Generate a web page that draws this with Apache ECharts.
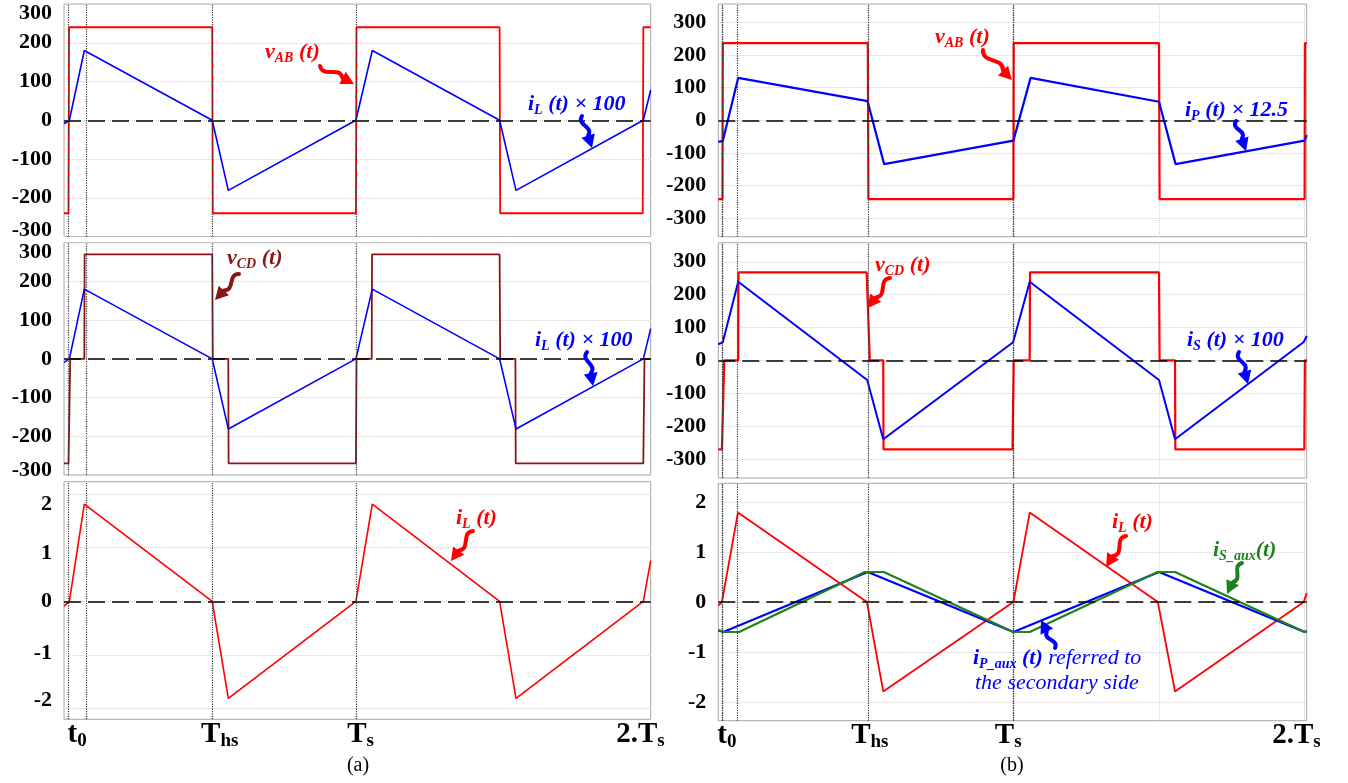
<!DOCTYPE html>
<html><head><meta charset="utf-8">
<script src="https://cdn.jsdelivr.net/npm/echarts@6/dist/echarts.min.js"></script>
<style>html,body{margin:0;padding:0;background:#fff}#c{width:1348px;height:783px}</style>
</head><body><div id="c"></div>
<script>
// ---------- DATA (time in units of Ts) ----------
// (a) column
const aVab   = [[-0.0157,-240],[0.0,-240],[0.002,240],[0.5,240],[0.502,-240],[1.0,-240],[1.002,240],[1.5,240],[1.502,-240],[1.998,-240],[2.0,240],[2.0257,240]];
const aIl100 = [[-0.0157,-9],[0.003,0],[0.055,180],[0.5,0],[0.556,-181],[1.0,0],[1.057,180],[1.5,0],[1.557,-181],[2.0,0],[2.0257,78]];
const aVcd   = [[-0.0157,-270],[0.0,-270],[0.006,0],[0.055,0],[0.056,270],[0.5,270],[0.502,0],[0.556,0],[0.557,-270],[1.0,-270],[1.002,0],[1.055,0],[1.056,270],[1.5,270],[1.502,0],[1.555,0],[1.556,-270],[2.0,-270],[2.004,0],[2.0257,0]];
const aIl    = [[-0.0157,-0.09],[0.003,0],[0.055,1.81],[0.5,0],[0.556,-1.81],[1.0,0],[1.057,1.81],[1.5,0],[1.557,-1.81],[2.0,0],[2.0257,0.76]];
// (b) column
const bVab   = [[-0.0134,-241],[0.001,-241],[0.002,236],[0.5,236],[0.502,-241],[1.0,-241],[1.001,236],[1.5,236],[1.502,-241],[2.0,-241],[2.001,236],[2.0072,236]];
const bIp125 = [[-0.0134,-66],[0.002,-63],[0.055,130],[0.499,59],[0.556,-134],[1.0,-62],[1.059,130],[1.5,57],[1.557,-134],[2.0,-62],[2.0072,-45]];
const bVcd   = [[-0.0134,-271],[-0.001,-271],[0.007,0],[0.055,0],[0.056,268],[0.496,268],[0.507,0],[0.553,0],[0.554,-271],[0.997,-271],[1.001,0],[1.056,0],[1.057,268],[1.5,268],[1.502,0],[1.555,0],[1.556,-271],[1.999,-271],[2.001,0],[2.0072,0]];
const bIs100 = [[-0.0134,49],[0.002,55],[0.055,239],[0.498,-60],[0.553,-240],[0.999,55],[1.056,239],[1.5,-60],[1.555,-240],[1.997,56],[2.0072,74]];
const bIl    = [[-0.0134,-0.07],[-0.001,0],[0.054,1.79],[0.497,0],[0.553,-1.79],[1.0,0],[1.056,1.79],[1.496,0],[1.555,-1.79],[1.997,0],[2.0072,0.18]];
const bIpAux = [[-0.0134,-0.57],[0.004,-0.6],[0.5,0.6],[1.0,-0.6],[1.5,0.6],[2.0,-0.6],[2.0072,-0.58]];
const bIsAux = [[-0.0134,-0.555],[0.004,-0.6],[0.058,-0.6],[0.49,0.6],[0.555,0.6],[1.0,-0.6],[1.056,-0.6],[1.495,0.6],[1.555,0.6],[2.0,-0.6],[2.0072,-0.6]];

// ticks / labels
const yTicksV   = [-300,-200,-100,0,100,200,300];
const yTicksI   = [-2,-1,0,1,2];
const yLabelPosA3 = [-1.84,-0.97,0,0.90,1.81];   // where the labels sit in panel (a) bottom
const yLabelTxtA3 = ['-2','-1','0','1','2'];
const xTicksB   = [0,0.5,1,1.5,2];
const xLabelTxt = ['{m|t}{s|0}','{m|T}{s|hs}','{m|T}{s|s}','{m|2.T}{s|s}'];
const xLabelPosA = [0.03,0.526,1.016,1.99];
const xLabelPosB = [0.016,0.507,0.982,1.972];
const aEventLines = [0.003,0.055,0.5,1.005];
const bEventLines = [-0.004,0.002,0.053,0.497,1.0,1.003];

// ---------- STYLE ----------
const F = 'Liberation Serif';
const RED='#ff0000', BLUE='#0000ff', DRED='#8b1616', GREEN='#1e821e';
const aExt=[-0.0157,2.0257], bExt=[-0.0134,2.0072];

const grids = [
  {left:64, top:4, width:586.7, height:232.5},
  {left:64, top:242.7, width:586.7, height:232.3},
  {left:64, top:481.7, width:586.7, height:237.6},
  {left:718.3, top:4, width:588.4, height:232.7},
  {left:718.3, top:242.7, width:588.4, height:235.3},
  {left:718.3, top:483.3, width:588.4, height:237.4}
].map(g=>Object.assign(g,{show:true,borderColor:'#a6a6a6',borderWidth:1,backgroundColor:'rgba(0,0,0,0)'}));

const lab = (extra)=>Object.assign({fontFamily:F,fontWeight:'bold',fontSize:22,color:'#000'},extra||{});
const yRich = {n:lab(), t:lab({padding:[18,0,0,0]}), b:lab({padding:[0,0,13,0]}), t2:lab({padding:[20,0,0,0]}), b2:lab({padding:[0,0,10,0]})};

function yAx(gi,min,max,ticks,labels,fmt){
  return {type:'value',gridIndex:gi,min,max,
    axisLine:{show:false},axisTick:{show:false,customValues:ticks},
    splitLine:{show:true,lineStyle:{color:'#d2d2d2',type:'dotted',width:1}},
    axisLabel:{customValues:labels,margin:12,formatter:fmt,rich:yRich}};
}
const f1 = v=> v===300?'{t|300}':(v===-300?'{b|-300}':'{n|'+v+'}');
const f2 = v=> v===300?'{t2|300}':(v===-300?'{b2|-300}':'{n|'+v+'}');
const fN = v=> '{n|'+v+'}';
const fA3 = v=>{ let k=0; yLabelPosA3.forEach((p,i)=>{ if(Math.abs(p-v)<1e-6) k=i; }); return '{n|'+yLabelTxtA3[k]+'}'; };

const xRich = {m:{fontFamily:F,fontWeight:'bold',fontSize:29,color:'#000',lineHeight:32},
               s:{fontFamily:F,fontWeight:'bold',fontSize:19,color:'#000',lineHeight:20,verticalAlign:'bottom'}};
function xAx(gi,ext,right,labelPos){
  const ax={type:'value',gridIndex:gi,min:ext[0],max:ext[1],axisLine:{show:false},
    axisTick:{show:false},splitLine:{show:false},axisLabel:{show:false}};
  if(right){ ax.axisTick.customValues=xTicksB; ax.splitLine={show:true,lineStyle:{color:'#cfcfcf',type:'dotted',width:1}}; }
  if(labelPos){
    ax.axisLabel={show:true,customValues:labelPos,margin:-1,rich:xRich,
      formatter:v=>{let k=0; labelPos.forEach((p,i)=>{if(Math.abs(p-v)<1e-6)k=i;}); return xLabelTxt[k];}};
  }
  return ax;
}

const xAxis=[xAx(0,aExt,false),xAx(1,aExt,false),xAx(2,aExt,false,xLabelPosA),
             xAx(3,bExt,true),xAx(4,bExt,true),xAx(5,bExt,true,xLabelPosB)];
const yAxis=[yAx(0,-300,300,yTicksV,yTicksV,f1), yAx(1,-300,300,yTicksV,yTicksV,f2), yAx(2,-2.2,2.23,yTicksI,yLabelPosA3,fA3),
             yAx(3,-356,356,yTicksV,yTicksV,fN), yAx(4,-358,358,yTicksV,yTicksV,fN), yAx(5,-2.375,2.375,yTicksI,yTicksI,fN)];

function marks(ev){
  return {silent:true,symbol:['none','none'],label:{show:false},animation:false,emphasis:{disabled:true},
    data:[{yAxis:0,lineStyle:{type:[17,7],color:'#000',width:1.6}}].concat(
      ev.map(v=>({xAxis:v,lineStyle:{type:'dotted',color:'#3a3a3a',width:1.2}})))};
}
function line(data,gi,color,w,ev){
  const s={type:'line',xAxisIndex:gi,yAxisIndex:gi,data,showSymbol:false,symbol:'none',
    lineStyle:{color,width:w},itemStyle:{color},animation:false,silent:true,emphasis:{disabled:true}};
  if(ev) s.markLine=marks(ev);
  return s;
}
const series=[
  line(aVab,0,RED,1.8,aEventLines), line(aIl100,0,BLUE,1.6),
  line(aVcd,1,DRED,1.8,aEventLines), line(aIl100,1,BLUE,1.6),
  line(aIl,2,RED,1.6,aEventLines),
  line(bVab,3,RED,2.2,bEventLines), line(bIp125,3,BLUE,2.2),
  line(bVcd,4,RED,2.2,bEventLines), line(bIs100,4,BLUE,2.0),
  line(bIl,5,RED,1.8,bEventLines), line(bIpAux,5,BLUE,2.2), line(bIsAux,5,GREEN,2.2)
];

// ---------- annotations ----------
function annRich(color){
  return {m:{fontFamily:F,fontWeight:'bold',fontStyle:'italic',fontSize:22,fill:color,lineHeight:26},
          s:{fontFamily:F,fontWeight:'bold',fontStyle:'italic',fontSize:14,fill:color,lineHeight:12,verticalAlign:'bottom'},
          n:{fontFamily:F,fontStyle:'italic',fontSize:22,fill:color,lineHeight:26}};
}
function curly(x1,y1,x2,y2,color){
  const dx=x2-x1, dy=y2-y1, L=Math.hypot(dx,dy), ux=dx/L, uy=dy/L, nx=-uy, ny=ux;
  const h=13, w=7, bx=x2-ux*h, by=y2-uy*h, amp=Math.max(6,L*0.25);
  return [
    {type:'bezierCurve',z:100,silent:true,shape:{x1:x1,y1:y1,x2:bx,y2:by,
      cpx1:x1+(bx-x1)*0.35+nx*amp,cpy1:y1+(by-y1)*0.35+ny*amp,
      cpx2:x1+(bx-x1)*0.65-nx*amp,cpy2:y1+(by-y1)*0.65-ny*amp},
      style:{stroke:color,lineWidth:4,fill:null,lineCap:'round'}},
    {type:'polygon',z:100,silent:true,shape:{points:[[x2,y2],[bx+nx*w,by+ny*w],[bx-nx*w,by-ny*w]]},style:{fill:color}}
  ];
}
const anns=[
  {x:265,y:52,c:RED,t:'{m|v}{s|AB}{m| (t)}',a:[320,66,354,84]},
  {x:528,y:104,c:BLUE,t:'{m|i}{s|L}{m| (t) × 100}',a:[582,116,592,148]},
  {x:227,y:258,c:DRED,t:'{m|v}{s|CD}{m| (t)}',a:[239,274,215,300]},
  {x:535,y:340,c:BLUE,t:'{m|i}{s|L}{m| (t) × 100}',a:[587,352,593,386]},
  {x:456,y:518,c:RED,t:'{m|i}{s|L}{m| (t)}',a:[473,531,451,561]},
  {x:935,y:37,c:RED,t:'{m|v}{s|AB}{m| (t)}',a:[983,50,1012,80]},
  {x:1185,y:110,c:BLUE,t:'{m|i}{s|P}{m| (t) × 12.5}',a:[1236,121,1246,151]},
  {x:875,y:265,c:RED,t:'{m|v}{s|CD}{m| (t)}',a:[890,278,868,308]},
  {x:1187,y:340,c:BLUE,t:'{m|i}{s|S}{m| (t) × 100}',a:[1239,352,1248,384]},
  {x:1112,y:522,c:RED,t:'{m|i}{s|L}{m| (t)}',a:[1126,536,1106,567]},
  {x:1213,y:550,c:GREEN,t:'{m|i}{s|S_aux}{m|(t)}',a:[1242,563,1227,594]},
  {x:973,y:658,c:BLUE,t:'{m|i}{s|P_aux}{m| (t)}{n| referred to}',a:[1055,648,1041,620]},
  {x:975,y:683,c:BLUE,t:'{n|the secondary side}'}
];
const graphics=[];
anns.forEach(a=>{
  graphics.push({type:'text',x:a.x,y:a.y,z:100,silent:true,
    style:{text:a.t,rich:annRich(a.c),fill:a.c,align:'left',verticalAlign:'middle',fontFamily:F,fontSize:22}});
  if(a.a) curly(a.a[0],a.a[1],a.a[2],a.a[3],a.c).forEach(g=>graphics.push(g));
});
graphics.push({type:'text',x:358,y:766,silent:true,style:{text:'(a)',fontFamily:F,fontSize:20,fill:'#000',align:'center',verticalAlign:'middle'}});
graphics.push({type:'text',x:1012,y:766,silent:true,style:{text:'(b)',fontFamily:F,fontSize:20,fill:'#000',align:'center',verticalAlign:'middle'}});

const chart=echarts.init(document.getElementById('c'),null,{renderer:'canvas'});
chart.setOption({animation:false,backgroundColor:'#fff',grid:grids,xAxis,yAxis,series,graphic:{elements:graphics}});
</script></body></html>
